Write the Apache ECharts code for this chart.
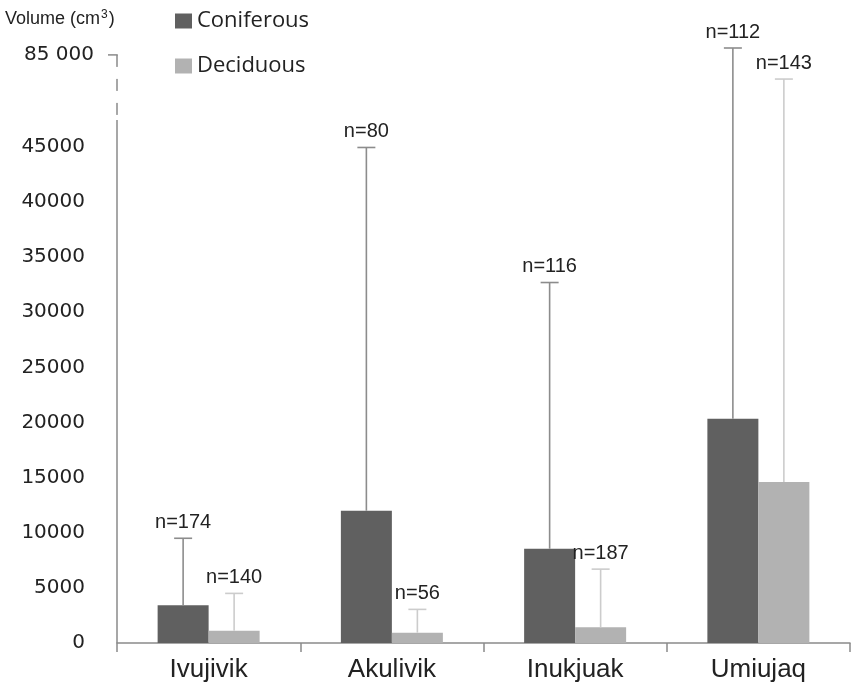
<!DOCTYPE html>
<html>
<head>
<meta charset="utf-8">
<script src="https://cdn.jsdelivr.net/npm/echarts@6/dist/echarts.min.js"></script>
<style>
  html, body { margin: 0; padding: 0; background: #fff; }
  #chart { width: 851px; height: 688px; }
</style>
</head>
<body>
<div id="chart"></div>
<script>
// ---- data ----
const categories = ['Ivujivik', 'Akulivik', 'Inukjuak', 'Umiujaq'];
const coniferousMean = [3420, 12000, 8560, 20350];
const coniferousUpper = [9500, 44950, 32700, 88000];
const coniferousN = [174, 80, 116, 112];
const deciduousMean = [1120, 940, 1420, 14600];
const deciduousUpper = [4500, 3050, 6700, 74500];
const deciduousN = [140, 56, 187, 143];
const yTickValues = [0, 5000, 10000, 15000, 20000, 25000, 30000, 35000, 40000, 45000];
const breakTickValue = 85000;
const breakTickLabel = '85 000';

// ---- broken axis transform (values above 45000 are compressed) ----
const BREAK_AT = 45000;
const BREAK_SCALE = 0.2087;
function T(v) { return v <= BREAK_AT ? v : BREAK_AT + (v - BREAK_AT) * BREAK_SCALE; }

// ---- style constants ----
const GRID_LEFT = 117;
const BAR_W = 51;
const CAP_W = 18;
const Y_MAX = 54700;
const SOLID_TOP = 47450;
const AXIS_COLOR = '#8a8a8a';
const DARK = '#606060';
const LIGHT = '#b2b2b2';

const chart = echarts.init(document.getElementById('chart'));

function errSeries(name, means, uppers, ns, sign, color) {
  return {
    type: 'custom',
    name: name + ' err',
    z: 5,
    silent: true,
    encode: { x: 0, y: [1, 2] },
    data: categories.map((c, i) => [i, T(means[i]), T(uppers[i]), ns[i]]),
    renderItem: function (params, api) {
      const ci = api.value(0);
      const base = api.coord([ci, api.value(1)]);
      const top = api.coord([ci, api.value(2)]);
      const x = base[0] + sign * BAR_W / 2;
      return {
        type: 'group',
        children: [
          { type: 'line', shape: { x1: x, y1: base[1], x2: x, y2: top[1] },
            style: { stroke: color, lineWidth: 1.6 } },
          { type: 'line', shape: { x1: x - CAP_W / 2, y1: top[1], x2: x + CAP_W / 2, y2: top[1] },
            style: { stroke: color, lineWidth: 1.6 } },
          { type: 'text', x: x, y: top[1] - 6,
            style: { text: 'n=' + api.value(3), align: 'center', verticalAlign: 'bottom',
                     fontFamily: 'Liberation Sans', fontSize: 20, fill: '#222' } }
        ]
      };
    }
  };
}

const option = {
  animation: false,
  backgroundColor: '#fff',
  grid: { left: GRID_LEFT, right: 1, top: 40, bottom: 45 },
  legend: {
    orient: 'vertical',
    left: 175,
    top: 10,
    padding: 0,
    itemWidth: 17,
    itemHeight: 15,
    itemGap: 23,
    icon: 'rect',
    data: ['Coniferous', 'Deciduous'],
    textStyle: { fontFamily: 'Open Sans', fontSize: 22, color: '#222', lineHeight: 22, padding: [0, 0, 0, 0] }
  },
  title: {
    text: '{a|Volume (cm}{s|3}{a|)}',
    left: 5,
    top: 9,
    padding: 0,
    textStyle: {
      fontWeight: 'normal',
      rich: {
        a: { fontFamily: 'Liberation Sans', fontSize: 18, fontWeight: 'normal', color: '#222' },
        s: { fontFamily: 'Liberation Sans', fontSize: 12, fontWeight: 'normal', color: '#222', verticalAlign: 'top', padding: [0, 1, 8, 1] }
      }
    }
  },
  xAxis: {
    type: 'category',
    data: categories,
    axisLine: { show: true, lineStyle: { color: AXIS_COLOR, width: 1.5 } },
    axisTick: { show: true, length: 9, lineStyle: { color: AXIS_COLOR, width: 1.5 } },
    axisLabel: { fontFamily: 'Liberation Sans', fontSize: 26, color: '#222', margin: 14 }
  },
  yAxis: {
    type: 'value',
    min: 0,
    max: Y_MAX,
    interval: 5000,
    axisLine: { show: false },
    axisTick: { show: false },
    splitLine: { show: false },
    axisLabel: {
      customValues: yTickValues,
      margin: 32,
      fontFamily: 'DejaVu Sans',
      fontSize: 20,
      color: '#222',
      formatter: function (v) { return v <= BREAK_AT ? String(v) : ''; }
    }
  },
  series: [
    { type: 'bar', name: 'Coniferous', data: coniferousMean.map(T), barWidth: BAR_W, barGap: '0%',
      itemStyle: { color: DARK } },
    { type: 'bar', name: 'Deciduous', data: deciduousMean.map(T), barWidth: BAR_W, barGap: '0%',
      itemStyle: { color: LIGHT } },
    errSeries('Coniferous', coniferousMean, coniferousUpper, coniferousN, -1, '#8c8c8c'),
    errSeries('Deciduous', deciduousMean, deciduousUpper, deciduousN, 1, '#cccccc')
  ]
};

chart.setOption(option);

// ---- broken y-axis line, drawn from the axis scale ----
const py = v => chart.convertToPixel({ yAxisIndex: 0 }, v);
const y0 = py(0);
const ySolidTop = py(SOLID_TOP);
const yBreak = py(T(breakTickValue));
chart.setOption({
  graphic: [
    { type: 'line', z: 10, shape: { x1: GRID_LEFT, y1: y0, x2: GRID_LEFT, y2: ySolidTop },
      style: { stroke: AXIS_COLOR, lineWidth: 1.5 } },
    { type: 'line', z: 10, shape: { x1: GRID_LEFT, y1: yBreak, x2: GRID_LEFT, y2: ySolidTop },
      style: { stroke: AXIS_COLOR, lineWidth: 1.5, lineDash: [12, 12] } },
    { type: 'line', z: 10, shape: { x1: GRID_LEFT - 9, y1: yBreak, x2: GRID_LEFT + 0.75, y2: yBreak },
      style: { stroke: AXIS_COLOR, lineWidth: 1.5 } },
    { type: 'text', z: 10, x: GRID_LEFT - 23, y: yBreak,
      style: { text: breakTickLabel, align: 'right', verticalAlign: 'middle',
               fontFamily: 'DejaVu Sans', fontSize: 20, fill: '#222' } }
  ]
});
</script>
</body>
</html>
